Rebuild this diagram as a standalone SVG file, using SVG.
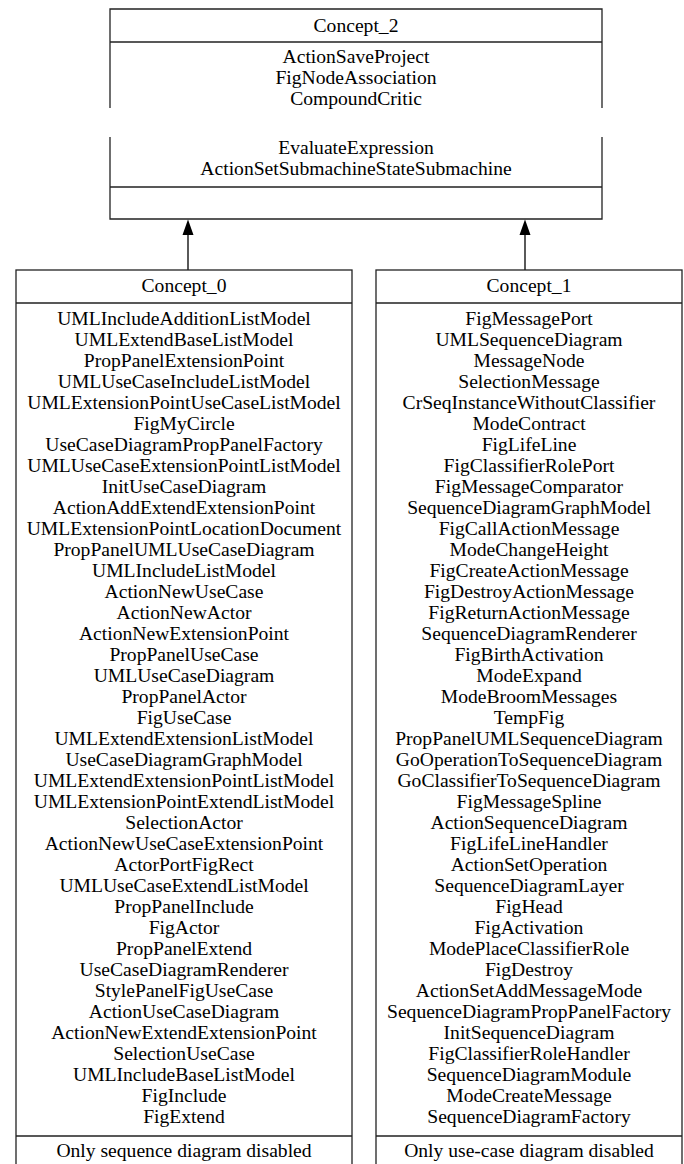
<svg xmlns="http://www.w3.org/2000/svg" width="684" height="1164" viewBox="0 0 684 1164">
<defs>
<style>
text{font-family:"Liberation Serif","Times New Roman",serif;font-size:19.6px;fill:#000;text-anchor:middle}
.b{fill:none;stroke:#222;stroke-width:1.3}
.e{fill:none;stroke:#000;stroke-width:1.3}
.h{fill:#000}
</style>
</defs>
<rect width="684" height="1164" fill="#fff"/>
<g id="concept_2">
<path class="b" d="M110,108 V9 H602 V108 M110,137 V219 H602 V137 M110,42 H602 M110,187 H602"/>
<text x="356" y="32">Concept_2</text>
<text x="356" y="63">ActionSaveProject</text>
<text x="356" y="84">FigNodeAssociation</text>
<text x="356" y="105">CompoundCritic</text>
<text x="356" y="154">EvaluateExpression</text>
<text x="356" y="175">ActionSetSubmachineStateSubmachine</text>
</g>
<g id="connectors">
<line class="e" x1="188" y1="270" x2="188" y2="234"/>
<path class="h" d="M182.5,235 L188,219.5 L193.5,235 Z"/>
<line class="e" x1="525" y1="270" x2="525" y2="234"/>
<path class="h" d="M519.5,235 L525,219.5 L530.5,235 Z"/>
</g>
<g id="concept_0">
<rect class="b" x="16" y="270" width="336" height="900"/>
<path class="b" d="M16,303 H352 M16,1136 H352"/>
<text x="184" y="292">Concept_0</text>
<text x="184" y="325">UMLIncludeAdditionListModel</text>
<text x="184" y="346">UMLExtendBaseListModel</text>
<text x="184" y="367">PropPanelExtensionPoint</text>
<text x="184" y="388">UMLUseCaseIncludeListModel</text>
<text x="184" y="409">UMLExtensionPointUseCaseListModel</text>
<text x="184" y="430">FigMyCircle</text>
<text x="184" y="451">UseCaseDiagramPropPanelFactory</text>
<text x="184" y="472">UMLUseCaseExtensionPointListModel</text>
<text x="184" y="493">InitUseCaseDiagram</text>
<text x="184" y="514">ActionAddExtendExtensionPoint</text>
<text x="184" y="535">UMLExtensionPointLocationDocument</text>
<text x="184" y="556">PropPanelUMLUseCaseDiagram</text>
<text x="184" y="577">UMLIncludeListModel</text>
<text x="184" y="598">ActionNewUseCase</text>
<text x="184" y="619">ActionNewActor</text>
<text x="184" y="640">ActionNewExtensionPoint</text>
<text x="184" y="661">PropPanelUseCase</text>
<text x="184" y="682">UMLUseCaseDiagram</text>
<text x="184" y="703">PropPanelActor</text>
<text x="184" y="724">FigUseCase</text>
<text x="184" y="745">UMLExtendExtensionListModel</text>
<text x="184" y="766">UseCaseDiagramGraphModel</text>
<text x="184" y="787">UMLExtendExtensionPointListModel</text>
<text x="184" y="808">UMLExtensionPointExtendListModel</text>
<text x="184" y="829">SelectionActor</text>
<text x="184" y="850">ActionNewUseCaseExtensionPoint</text>
<text x="184" y="871">ActorPortFigRect</text>
<text x="184" y="892">UMLUseCaseExtendListModel</text>
<text x="184" y="913">PropPanelInclude</text>
<text x="184" y="934">FigActor</text>
<text x="184" y="955">PropPanelExtend</text>
<text x="184" y="976">UseCaseDiagramRenderer</text>
<text x="184" y="997">StylePanelFigUseCase</text>
<text x="184" y="1018">ActionUseCaseDiagram</text>
<text x="184" y="1039">ActionNewExtendExtensionPoint</text>
<text x="184" y="1060">SelectionUseCase</text>
<text x="184" y="1081">UMLIncludeBaseListModel</text>
<text x="184" y="1102">FigInclude</text>
<text x="184" y="1123">FigExtend</text>
<text x="184" y="1157">Only sequence diagram disabled</text>
</g>
<g id="concept_1">
<rect class="b" x="376" y="270" width="306" height="900"/>
<path class="b" d="M376,303 H682 M376,1136 H682"/>
<text x="529" y="292">Concept_1</text>
<text x="529" y="325">FigMessagePort</text>
<text x="529" y="346">UMLSequenceDiagram</text>
<text x="529" y="367">MessageNode</text>
<text x="529" y="388">SelectionMessage</text>
<text x="529" y="409">CrSeqInstanceWithoutClassifier</text>
<text x="529" y="430">ModeContract</text>
<text x="529" y="451">FigLifeLine</text>
<text x="529" y="472">FigClassifierRolePort</text>
<text x="529" y="493">FigMessageComparator</text>
<text x="529" y="514">SequenceDiagramGraphModel</text>
<text x="529" y="535">FigCallActionMessage</text>
<text x="529" y="556">ModeChangeHeight</text>
<text x="529" y="577">FigCreateActionMessage</text>
<text x="529" y="598">FigDestroyActionMessage</text>
<text x="529" y="619">FigReturnActionMessage</text>
<text x="529" y="640">SequenceDiagramRenderer</text>
<text x="529" y="661">FigBirthActivation</text>
<text x="529" y="682">ModeExpand</text>
<text x="529" y="703">ModeBroomMessages</text>
<text x="529" y="724">TempFig</text>
<text x="529" y="745">PropPanelUMLSequenceDiagram</text>
<text x="529" y="766">GoOperationToSequenceDiagram</text>
<text x="529" y="787">GoClassifierToSequenceDiagram</text>
<text x="529" y="808">FigMessageSpline</text>
<text x="529" y="829">ActionSequenceDiagram</text>
<text x="529" y="850">FigLifeLineHandler</text>
<text x="529" y="871">ActionSetOperation</text>
<text x="529" y="892">SequenceDiagramLayer</text>
<text x="529" y="913">FigHead</text>
<text x="529" y="934">FigActivation</text>
<text x="529" y="955">ModePlaceClassifierRole</text>
<text x="529" y="976">FigDestroy</text>
<text x="529" y="997">ActionSetAddMessageMode</text>
<text x="529" y="1018">SequenceDiagramPropPanelFactory</text>
<text x="529" y="1039">InitSequenceDiagram</text>
<text x="529" y="1060">FigClassifierRoleHandler</text>
<text x="529" y="1081">SequenceDiagramModule</text>
<text x="529" y="1102">ModeCreateMessage</text>
<text x="529" y="1123">SequenceDiagramFactory</text>
<text x="529" y="1157">Only use-case diagram disabled</text>
</g>
</svg>
